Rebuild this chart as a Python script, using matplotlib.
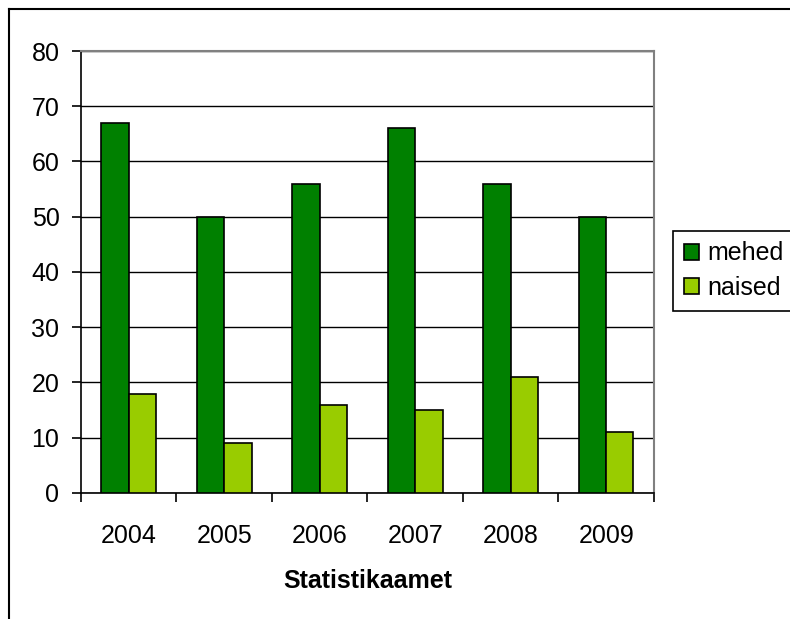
import numpy as np
import matplotlib
matplotlib.use('Agg')
import matplotlib.pyplot as plt
from matplotlib.lines import Line2D

# data
years = ['2004', '2005', '2006', '2007', '2008', '2009']
mehed = [67, 50, 56, 66, 56, 50]
naised = [18, 9, 16, 15, 21, 11]

plt.rcParams['font.family'] = ['Liberation Sans', 'DejaVu Sans']

fig = plt.figure(figsize=(7.9, 6.19), dpi=100)
ax = fig.add_axes([0.1025, 0.2036, 0.7253, 0.7140])

x = np.arange(len(years))
w = 1 / 3.5
ax.bar(x - w / 2, mehed, w, color='#008000', edgecolor='black', linewidth=1.2, label='mehed', zorder=3)
ax.bar(x + w / 2, naised, w, color='#99CC00', edgecolor='black', linewidth=1.2, label='naised', zorder=3)

ax.set_xlim(-0.5, len(years) - 0.5)
ax.set_ylim(0, 80)
ax.set_yticks(range(0, 81, 10))
ax.yaxis.grid(True, color='black', linewidth=1.0, zorder=0)

# category ticks at boundaries, labels in the middle
ax.set_xticks(np.arange(-0.5, len(years), 1))
ax.set_xticklabels([])
ax.set_xticks(x, minor=True)
ax.set_xticklabels(years, minor=True)
ax.tick_params(axis='x', which='major', length=6.5, width=1.2, direction='out')
ax.tick_params(axis='x', which='minor', length=0, pad=22, labelsize=18)
ax.tick_params(axis='y', length=6.5, width=1.2, direction='out', pad=9, labelsize=18)

for s in ['left', 'bottom']:
    ax.spines[s].set_color('black')
    ax.spines[s].set_linewidth(1.2)
for s in ['top', 'right']:
    ax.spines[s].set_color('#808080')
    ax.spines[s].set_linewidth(1.5)

ax.set_xlabel('Statistikaamet', fontsize=18, fontweight='bold')
ax.xaxis.set_label_coords(0.5, -0.173)

leg = fig.legend(loc='upper left', bbox_to_anchor=(673 / 790, 1 - 231 / 619),
                 bbox_transform=fig.transFigure, fontsize=18, frameon=True,
                 fancybox=False, edgecolor='black', framealpha=1, borderaxespad=0,
                 handlelength=0.62, handleheight=0.62, handletextpad=0.32,
                 borderpad=0.42, labelspacing=0.42)
leg.get_frame().set_linewidth(1.2)

# outer chart frame (left and top edges visible)
fig.add_artist(Line2D([8.5 / 790, 8.5 / 790], [0, 1 - 8.5 / 619], transform=fig.transFigure, color='black', linewidth=1.5))
fig.add_artist(Line2D([8.5 / 790, 1], [1 - 8.5 / 619, 1 - 8.5 / 619], transform=fig.transFigure, color='black', linewidth=1.5))

fig.savefig('out.png', dpi=100)
